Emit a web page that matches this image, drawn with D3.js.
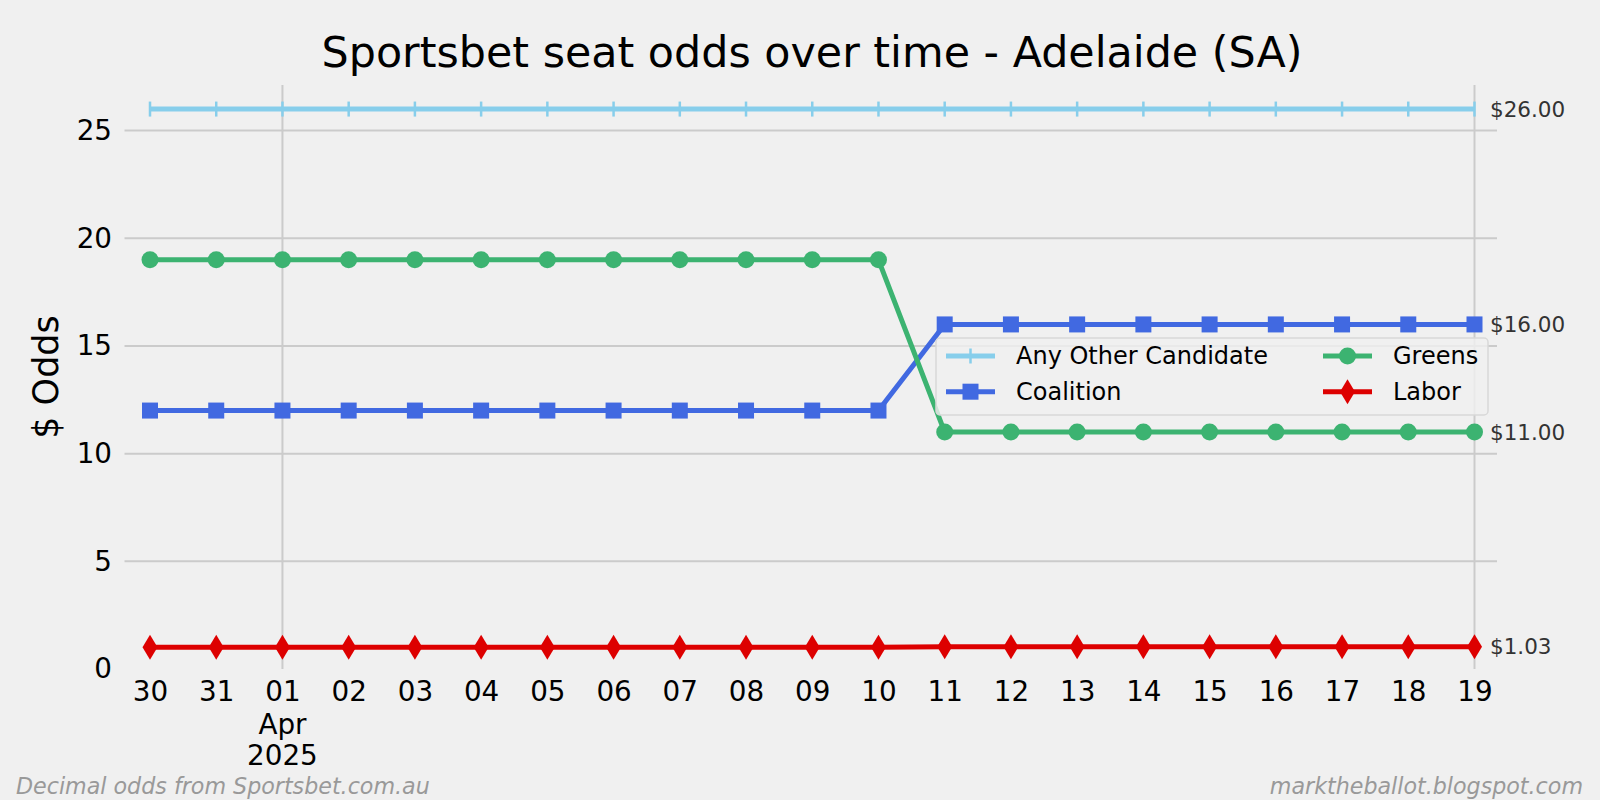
<!DOCTYPE html>
<html>
<head>
<meta charset="utf-8">
<script src="https://cdn.jsdelivr.net/npm/d3@7"></script>
<style>
html,body{margin:0;padding:0;background:#f0f0f0;}
svg{display:block;font-family:"DejaVu Sans",sans-serif;}
</style>
</head>
<body>
<svg id="chart" width="1600" height="800"></svg>
<script>
const dates = ["2025-03-30","2025-03-31","2025-04-01","2025-04-02","2025-04-03","2025-04-04","2025-04-05","2025-04-06","2025-04-07","2025-04-08","2025-04-09","2025-04-10","2025-04-11","2025-04-12","2025-04-13","2025-04-14","2025-04-15","2025-04-16","2025-04-17","2025-04-18","2025-04-19"];
const anyOther = [26,26,26,26,26,26,26,26,26,26,26,26,26,26,26,26,26,26,26,26,26];
const coalition = [12,12,12,12,12,12,12,12,12,12,12,12,16,16,16,16,16,16,16,16,16];
const greens = [19,19,19,19,19,19,19,19,19,19,19,19,11,11,11,11,11,11,11,11,11];
const labor = [1.01,1.01,1.01,1.01,1.01,1.01,1.01,1.01,1.01,1.01,1.01,1.01,1.03,1.03,1.03,1.03,1.03,1.03,1.03,1.03,1.03];
const yTicks = [0,5,10,15,20,25];
const title = "Sportsbet seat odds over time - Adelaide (SA)";

const series = [
  {name:"Any Other Candidate", values:anyOther, color:"#87ceeb", marker:"plus"},
  {name:"Coalition", values:coalition, color:"#4169e1", marker:"square"},
  {name:"Greens", values:greens, color:"#3cb371", marker:"circle"},
  {name:"Labor", values:labor, color:"#dd0000", marker:"diamond"}
];

const parse = d3.timeParse("%Y-%m-%d");
const dd = dates.map(parse);
const svg = d3.select("#chart");
const L = 124.5, R = 1497, T = 85, B = 669;

const x = d3.scaleTime().domain([dd[0], dd[dd.length-1]]).range([150, 1474.5]);
const y = d3.scaleLinear().domain([0,25]).range([669,130.6]);

svg.append("rect").attr("width",1600).attr("height",800).attr("fill","#f0f0f0");

// grid
const g = svg.append("g");
g.selectAll(".hg").data(yTicks.filter(t=>t>0)).join("line")
  .attr("x1",L).attr("x2",R).attr("y1",d=>y(d)).attr("y2",d=>y(d))
  .attr("stroke","#cbcbcb").attr("stroke-width",2);
const vgrid = [parse("2025-04-01"), dd[dd.length-1]];
g.selectAll(".vg").data(vgrid).join("line")
  .attr("x1",d=>x(d)).attr("x2",d=>x(d)).attr("y1",T).attr("y2",B)
  .attr("stroke","#cbcbcb").attr("stroke-width",2);

// y ticks
const yAxis = d3.axisLeft(y).tickValues(yTicks).tickSize(0).tickPadding(0);
const ya = svg.append("g").attr("transform",`translate(112,0)`).call(yAxis);
ya.select(".domain").remove();
ya.selectAll("text").attr("font-size",27.8).attr("fill","#000").attr("font-family","DejaVu Sans");

// x ticks
const xAxis = d3.axisBottom(x).tickValues(dd).tickSize(0).tickPadding(0).tickFormat(d3.timeFormat("%d"));
const xa = svg.append("g").attr("transform",`translate(0,${B})`).call(xAxis);
xa.select(".domain").remove();
xa.selectAll("text").attr("font-size",27.8).attr("fill","#000").attr("font-family","DejaVu Sans").attr("dy",null).attr("y",32);
const apr = parse("2025-04-01");
svg.append("text").attr("x",x(apr)).attr("y",734).attr("text-anchor","middle").attr("font-size",27.8).text("Apr");
svg.append("text").attr("x",x(apr)).attr("y",765).attr("text-anchor","middle").attr("font-size",27.8).text("2025");

// y label
svg.append("text").attr("transform",`translate(58,${(T+B)/2}) rotate(-90)`).attr("text-anchor","middle")
  .attr("font-size",35).text("$ Odds");

// title
svg.append("text").attr("x",812).attr("y",66.5).attr("text-anchor","middle").attr("font-size",42.8).text(title);

// lines
const line = d3.line().x((d,i)=>x(dd[i])).y(d=>y(d));
function drawMarker(sel, type, color){
  if(type==="circle") sel.append("circle").attr("r",8.5).attr("fill",color);
  else if(type==="square") sel.append("rect").attr("x",-8).attr("y",-8).attr("width",16).attr("height",16).attr("fill",color);
  else if(type==="diamond") sel.append("path").attr("d","M0,-12.5L7.5,0L0,12.5L-7.5,0Z").attr("fill",color);
  else if(type==="plus") sel.append("path").attr("d","M0,-7.5V7.5").attr("stroke",color).attr("stroke-width",2.5);
}
series.forEach(s=>{
  svg.append("path").datum(s.values).attr("d",line).attr("fill","none")
    .attr("stroke",s.color).attr("stroke-width",5).attr("stroke-linejoin","round");
  s.values.forEach((v,i)=>{
    const m = svg.append("g").attr("transform",`translate(${x(dd[i])},${y(v)})`);
    drawMarker(m, s.marker, s.color);
  });
  const last = s.values[s.values.length-1];
  svg.append("text").attr("x",1490).attr("y",y(last)).attr("dy","0.35em")
    .attr("font-size",21.5).attr("fill","#333").text("$"+last.toFixed(2));
});

// legend
const lg = svg.append("g");
lg.append("rect").attr("x",936).attr("y",338).attr("width",552).attr("height",77).attr("rx",4)
  .attr("fill","#f0f0f0").attr("fill-opacity",0.8).attr("stroke","#d8d8d8").attr("stroke-width",1.5);
const legendPos = [
  {s:series[0], hx:946, ty:356},
  {s:series[1], hx:946, ty:391.7},
  {s:series[2], hx:1323, ty:356},
  {s:series[3], hx:1323, ty:391.7}
];
legendPos.forEach(p=>{
  lg.append("line").attr("x1",p.hx).attr("x2",p.hx+49).attr("y1",p.ty).attr("y2",p.ty)
    .attr("stroke",p.s.color).attr("stroke-width",5);
  const m = lg.append("g").attr("transform",`translate(${p.hx+24.5},${p.ty})`);
  drawMarker(m, p.s.marker, p.s.color);
  lg.append("text").attr("x",p.hx+70).attr("y",p.ty).attr("dy","0.35em").attr("font-size",24).text(p.s.name);
});

// footnotes
svg.append("text").attr("x",16).attr("y",794).attr("font-size",22.2).attr("font-style","italic").attr("fill","#999").text("Decimal odds from Sportsbet.com.au");
svg.append("text").attr("x",1583).attr("y",794).attr("text-anchor","end").attr("font-size",22.2).attr("font-style","italic").attr("fill","#999").text("marktheballot.blogspot.com");
</script>
</body>
</html>
